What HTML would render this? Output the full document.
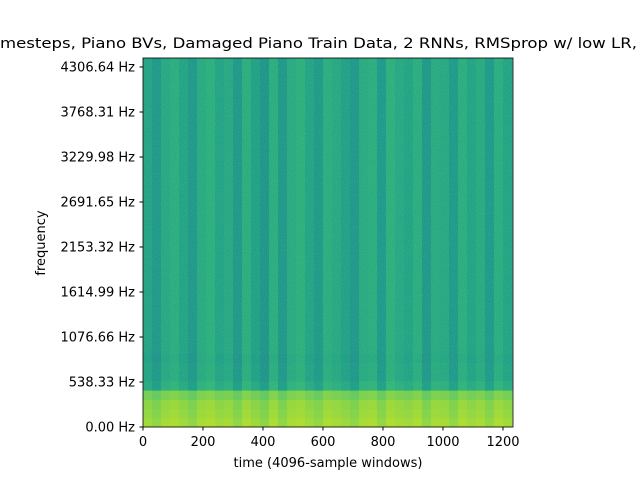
<!DOCTYPE html>
<html><head><meta charset="utf-8"><style>
body{margin:0;background:#fff;width:640px;height:480px;overflow:hidden;font-family:"DejaVu Sans",sans-serif}
</style></head><body>
<svg id="chart" width="640" height="480" style="font-family:'DejaVu Sans',sans-serif">
<defs>
<filter id="grain" x="0" y="0" width="100%" height="100%">
<feTurbulence type="fractalNoise" baseFrequency="0.9" numOctaves="1" seed="3"/>
<feColorMatrix type="matrix" values="0 0 0 0 0.2  0 0 0 0 0.75  0 0 0 0 0.35  0 0 0 1.6 -0.75"/>
</filter>
</defs>
<text x="0" y="48" font-size="14" text-anchor="end">Spectrogram, 2400 ti</text>
<text x="0" y="48" font-size="14" textLength="637" lengthAdjust="spacingAndGlyphs">mesteps, Piano BVs, Damaged Piano Train Data, 2 RNNs, RMSprop w/ low LR,</text>
<g id="cells"></g>
<rect x="143" y="58" width="370" height="369" filter="url(#grain)" opacity="0.35"/>
<rect x="143" y="58" width="370" height="369" fill="none" stroke="#000" stroke-width="0.8"/>
<g id="axes"></g>
<text x="328" y="467" font-size="13" text-anchor="middle">time (4096-sample windows)</text>
<text x="45" y="243" font-size="13" text-anchor="middle" transform="rotate(-90 45 243)">frequency</text>
</svg>
<script>
const colWidth = 30;
const colLevels = [-0.02,-0.07,0.0,0.02,-0.02,-0.07,0.01,0.03,-0.02,0.0,-0.07,0.02,-0.03,-0.08,0.02,-0.07,0.01,0.03,-0.02,-0.06,0.02,0.0,-0.03,-0.07,0.01,0.02,-0.06,0.03,0.0,-0.02,0.02,-0.07,0.01,0.0,-0.06,0.02,-0.02,0.01,-0.06,0.02,-0.02];
const rowHeightHz = 110.4;
const rowLevels = [0.27,0.25,0.24,0.2,0.03,0.0,0.0,-0.01,0,0,0,0,0,0,0,0,0,0,0,0,0,0,0,0,0,0,0,0,0,0,0,0,0,0,0,0,0,0,0,0];
const baseLevel = 0.6;
const xTicks = [0,200,400,600,800,1000,1200];
const yTicks = [0,538.33,1076.66,1614.99,2153.32,2691.65,3229.98,3768.31,4306.64];
const yTickLabels = ["0.00 Hz","538.33 Hz","1076.66 Hz","1614.99 Hz","2153.32 Hz","2691.65 Hz","3229.98 Hz","3768.31 Hz","4306.64 Hz"];

const xS = t => 143 + t*0.3;
const yS = f => 427 - f*45/538.33;
const vir=[[68,1,84],[72,40,120],[62,74,137],[49,104,142],[38,130,142],[31,158,137],[53,183,121],[109,205,89],[180,222,44],[253,231,37]];
function cmap(v){v=Math.max(0,Math.min(1,v));const p=v*9,i=Math.min(8,Math.floor(p)),f=p-i;const a=vir[i],b=vir[i+1];return `rgb(${a.map((c,k)=>Math.round(c+(b[k]-c)*f)).join(',')})`;}
const NS="http://www.w3.org/2000/svg";
const cells=document.getElementById('cells');
colLevels.forEach((cl,c)=>{
  rowLevels.forEach((rl,r)=>{
    const x0=xS(c*colWidth), x1=Math.min(xS((c+1)*colWidth),513);
    const yTop=Math.max(yS((r+1)*rowHeightHz),58), yBot=yS(r*rowHeightHz);
    if(x1<=x0||yBot<=yTop) return;
    const el=document.createElementNS(NS,'rect');
    el.setAttribute('x',x0);el.setAttribute('y',yTop);
    el.setAttribute('width',x1-x0+0.5);el.setAttribute('height',yBot-yTop+0.5);
    el.setAttribute('fill',cmap(baseLevel+cl*(r<4?0.5:1)+rl));
    
    
    cells.appendChild(el);
  });
});
const axes=document.getElementById('axes');
xTicks.forEach(t=>{
  const l=document.createElementNS(NS,'line');
  l.setAttribute('x1',xS(t));l.setAttribute('x2',xS(t));l.setAttribute('y1',427);l.setAttribute('y2',430.5);l.setAttribute('stroke','#000');
  
  
  axes.appendChild(l);
  const tx=document.createElementNS(NS,'text');
  tx.setAttribute('x',xS(t));tx.setAttribute('y',446);tx.setAttribute('font-size','13');tx.setAttribute('text-anchor','middle');tx.textContent=t;
  
  
  axes.appendChild(tx);
});
yTicks.forEach((f,i)=>{
  const l=document.createElementNS(NS,'line');
  l.setAttribute('x1',139.5);l.setAttribute('x2',143);l.setAttribute('y1',yS(f));l.setAttribute('y2',yS(f));l.setAttribute('stroke','#000');
  
  
  axes.appendChild(l);
  const tx=document.createElementNS(NS,'text');
  tx.setAttribute('x',135);tx.setAttribute('y',yS(f)+4.5);tx.setAttribute('font-size','13');tx.setAttribute('text-anchor','end');tx.textContent=yTickLabels[i];
  
  
  axes.appendChild(tx);
});
</script>
</body></html>
